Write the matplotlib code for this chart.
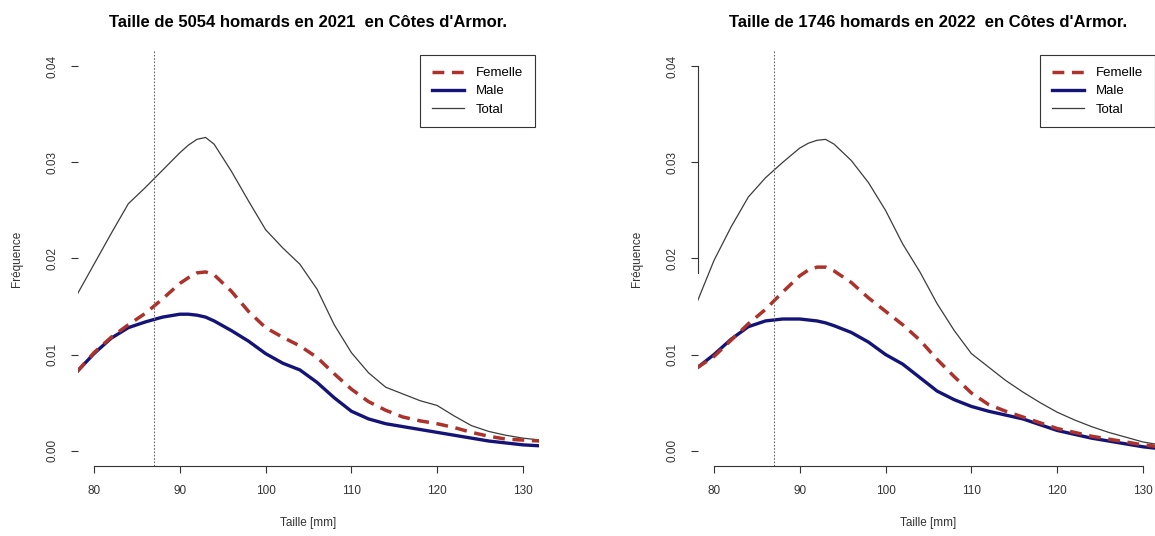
import matplotlib
matplotlib.use('Agg')
import matplotlib.pyplot as plt

plt.rcParams['font.family'] = ['Liberation Sans', 'DejaVu Sans']

# taille (mm) - grille commune aux densites
taille = [78, 80, 82, 84, 86, 88, 90, 91, 92, 93, 94, 96, 98, 100, 102, 104,
          106, 108, 110, 112, 114, 116, 118, 120, 122, 124, 126, 128, 130, 132]

# 2021
total_2021 = [0.0162, 0.0194, 0.0226, 0.0257, 0.0274, 0.0292, 0.0310, 0.0318,
              0.0324, 0.0326, 0.0319, 0.0291, 0.0260, 0.0230, 0.0211, 0.0194,
              0.0168, 0.0131, 0.0102, 0.0081, 0.0066, 0.0059, 0.0052, 0.0047,
              0.0036, 0.0026, 0.0020, 0.0016, 0.0013, 0.0011]
femelle_2021 = [0.0082, 0.0102, 0.0118, 0.0131, 0.0143, 0.0158, 0.0174, 0.0180,
                0.0185, 0.0186, 0.0183, 0.0166, 0.0145, 0.0128, 0.0118, 0.0109,
                0.0097, 0.0080, 0.0064, 0.0051, 0.0042, 0.0035, 0.0031, 0.0028,
                0.0024, 0.0019, 0.0015, 0.0012, 0.0011, 0.0010]
male_2021 = [0.0082, 0.0101, 0.0117, 0.0128, 0.0134, 0.0139, 0.0142, 0.0142,
             0.0141, 0.0139, 0.0135, 0.0125, 0.0114, 0.0101, 0.0091, 0.0084,
             0.0071, 0.0055, 0.0041, 0.0033, 0.0028, 0.0025, 0.0022, 0.0019,
             0.0016, 0.0013, 0.0010, 0.0008, 0.0006, 0.0005]

# 2022
total_2022 = [0.0154, 0.0198, 0.0233, 0.0264, 0.0284, 0.0300, 0.0315, 0.0320,
              0.0323, 0.0324, 0.0319, 0.0302, 0.0279, 0.0250, 0.0215, 0.0186,
              0.0153, 0.0125, 0.0101, 0.0087, 0.0073, 0.0061, 0.0050, 0.0040,
              0.0032, 0.0025, 0.0019, 0.0014, 0.0009, 0.0006]
femelle_2022 = [0.0086, 0.0098, 0.0115, 0.0132, 0.0147, 0.0165, 0.0182, 0.0188,
                0.0191, 0.0191, 0.0187, 0.0175, 0.0159, 0.0145, 0.0131, 0.0115,
                0.0095, 0.0077, 0.0060, 0.0048, 0.0041, 0.0035, 0.0029, 0.0023,
                0.0019, 0.0015, 0.0012, 0.0009, 0.0006, 0.0004]
male_2022 = [0.0086, 0.0100, 0.0116, 0.0129, 0.0135, 0.0137, 0.0137, 0.0136,
             0.0135, 0.0133, 0.0130, 0.0123, 0.0113, 0.0100, 0.0090, 0.0076,
             0.0062, 0.0053, 0.0046, 0.0041, 0.0037, 0.0033, 0.0027, 0.0021,
             0.0017, 0.0013, 0.0010, 0.0007, 0.0004, 0.0002]

titres = ["Taille de 5054 homards en 2021  en Côtes d'Armor.",
          "Taille de 1746 homards en 2022  en Côtes d'Armor."]
taille_min = 87  # taille minimale de capture
x_ticks = [80, 90, 100, 110, 120, 130]
y_ticks = [0.00, 0.01, 0.02, 0.03, 0.04]
y_labels = ['0.00', '0.01', '0.02', '0.03', '0.04']

fig = plt.figure(figsize=(11.55, 5.36), dpi=100)
ax1 = fig.add_axes([0.0675, 0.1306, 0.3991, 0.7743])
ax2 = fig.add_axes([0.6043, 0.1306, 0.3991, 0.7743])

data = [(total_2021, femelle_2021, male_2021), (total_2022, femelle_2022, male_2022)]

for i, ax in enumerate([ax1, ax2]):
    tot, fem, mal = data[i]
    ax.plot(taille, tot, color='#3c3c3c', lw=0.9, label='Total')
    ax.plot(taille, mal, color='#141478', lw=2.4, label='Male')
    ax.plot(taille, fem, color='#ad322b', lw=2.5, linestyle=(0, (3.4, 2.2)),
            label='Femelle')
    ax.axvline(taille_min, color='#666666', lw=0.8, linestyle=(0, (1.5, 1.5)))

    ax.set_xlim(78.13, 131.86)
    ax.set_ylim(-0.0016, 0.0416)

    for s in ['top', 'right']:
        ax.spines[s].set_visible(False)
    ax.spines['bottom'].set_bounds(80, 130)
    ax.spines['bottom'].set_color('#333333')
    if i == 0:
        ax.spines['left'].set_visible(False)
    else:
        ax.spines['left'].set_bounds(0.0185, 0.04)
        ax.spines['left'].set_color('#333333')

    ax.set_xticks(x_ticks)
    ax.set_yticks(y_ticks)
    ax.set_yticklabels(y_labels, rotation=90, va='center')
    ax.tick_params(axis='both', length=5, width=0.8, color='#333333',
                   labelsize=8.5, labelcolor='#333333', pad=9)

    ax.set_xlabel('Taille [mm]', fontsize=8.5, color='#333333', labelpad=14)
    ax.set_ylabel('Fréquence', fontsize=8.5, color='#333333', labelpad=17)
    ax.set_title(titres[i], fontsize=12, fontweight='bold', pad=17)

    h, l = ax.get_legend_handles_labels()
    leg = ax.legend([h[2], h[1], h[0]], [l[2], l[1], l[0]], loc='upper right',
                    bbox_to_anchor=(0.991, 0.99), borderaxespad=0,
                    fancybox=False, framealpha=1, edgecolor='#333333',
                    fontsize=9.5, handlelength=2.4, labelspacing=0.45,
                    borderpad=0.9, handletextpad=0.9)
    leg.get_frame().set_linewidth(0.8)

fig.savefig('out.png', dpi=100)
